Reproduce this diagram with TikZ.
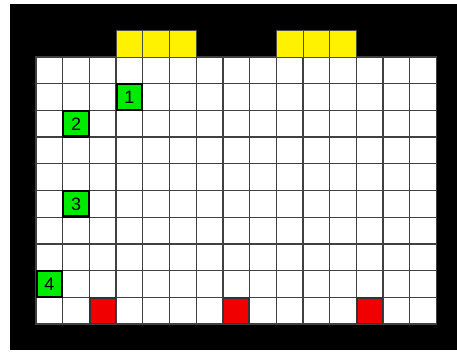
\documentclass[tikz,border=0pt]{standalone}
\usepackage{fontspec}
\setmainfont{Liberation Sans}
\begin{document}
\begin{tikzpicture}[x=1pt,y=-1pt,
  cellbox/.style={draw=black!75,line width=1.3pt,fill=white,minimum size=26.7pt,inner sep=0pt,outer sep=0pt},
  goalbox/.style={draw=black!70,line width=0.8pt,fill=yellow,minimum size=26.7pt,inner sep=0pt,outer sep=0pt},
  agentbox/.style={draw=black,line width=2.2pt,fill={rgb,255:red,0;green,235;blue,0},minimum size=25.5pt,inner sep=0pt,outer sep=0pt,font=\fontsize{18}{18}\selectfont},
  hazardbox/.style={draw=black!80,line width=1.2pt,fill={rgb,255:red,240;green,0;blue,0},minimum size=25.5pt,inner sep=0pt,outer sep=0pt}]
\useasboundingbox (0,0) rectangle (457,352);
\fill[white] (0,0) rectangle (457,352);
\fill[black] (10,4) rectangle (457,350);
\def\cs{26.7}
\foreach \c in {0,...,14}{
  \foreach \r in {0,...,9}{
    \node[cellbox] (c-\c-\r) at ({36+\cs*(\c+0.5)},{57+\cs*(\r+0.5)}) {};
  }
}
\foreach \c in {3,4,5,9,10,11}{
  \node[goalbox] (g-\c) at ({36+\cs*(\c+0.5)},{57-\cs*0.5}) {};
}
\node[agentbox] (a1) at (c-3-1) {1};
\node[agentbox] (a2) at (c-1-2) {2};
\node[agentbox] (a3) at (c-1-5) {3};
\node[agentbox] (a4) at (c-0-8) {4};
\node[hazardbox] (h1) at (c-2-9) {};
\node[hazardbox] (h2) at (c-7-9) {};
\node[hazardbox] (h3) at (c-12-9) {};
\end{tikzpicture}
\end{document}
